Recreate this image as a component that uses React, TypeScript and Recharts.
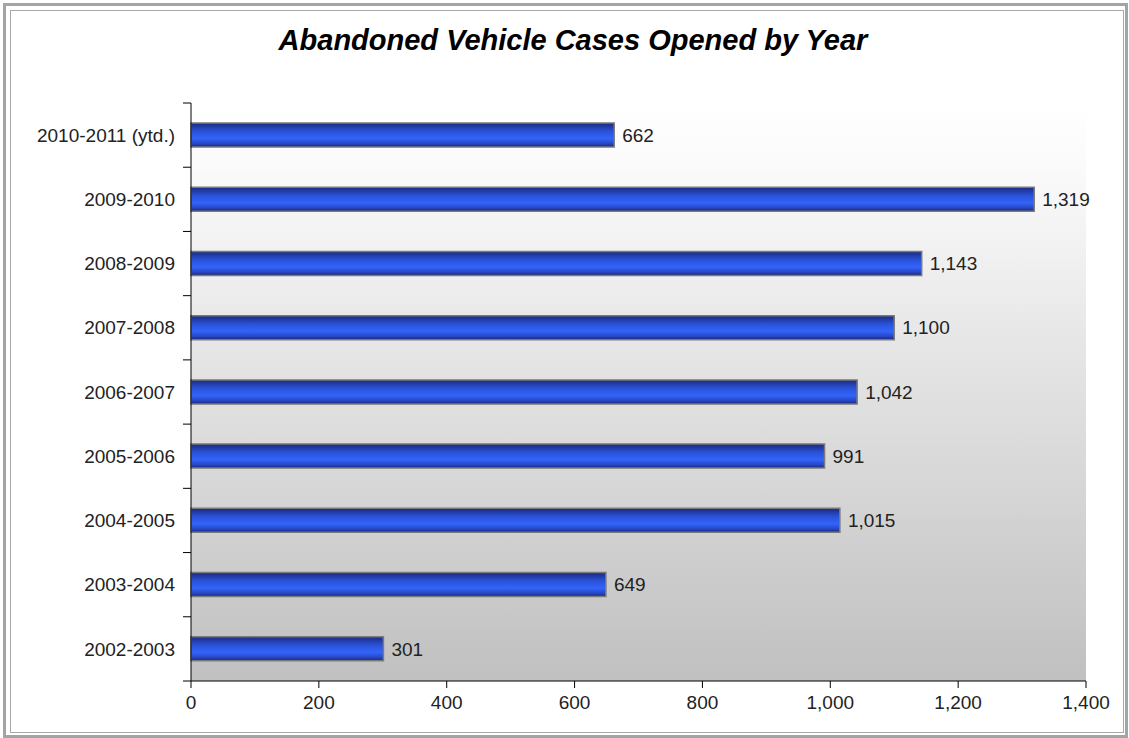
import { Bar, BarChart, CartesianGrid, LabelList, XAxis, YAxis } from 'recharts'

const years = [
  '2010-2011 (ytd.)',
  '2009-2010',
  '2008-2009',
  '2007-2008',
  '2006-2007',
  '2005-2006',
  '2004-2005',
  '2003-2004',
  '2002-2003',
]
const cases = [662, 1319, 1143, 1100, 1042, 991, 1015, 649, 301]
const xTicks = [0, 200, 400, 600, 800, 1000, 1200, 1400]

const data = years.map((year, i) => ({ year, cases: cases[i] }))

const FONT = '"Liberation Sans", Arial, sans-serif'
const fmt = (n: number) => n.toLocaleString('en-US')

// category labels centred in the band, tick marks on the band edges
function YTick(props: any) {
  const { x, y, payload, index, visibleTicksCount, height } = props
  const band = height / visibleTicksCount
  const axisX = x + 16
  return (
    <g>
      <line x1={axisX - 8} x2={axisX} y1={y - band / 2} y2={y - band / 2} stroke="#000" />
      {index === visibleTicksCount - 1 && (
        <line x1={axisX - 8} x2={axisX} y1={y + band / 2} y2={y + band / 2} stroke="#000" />
      )}
      <text x={x} y={y} dy="0.35em" textAnchor="end" fontSize={19} fontFamily={FONT} fill="#222">
        {payload.value}
      </text>
    </g>
  )
}

export default function App() {
  return (
    <div style={{ position: 'fixed', left: 0, top: 0, width: 1129, height: 738, background: '#fff' }}>
      <div style={{ position: 'absolute', left: 3, top: 3, right: 1, bottom: 0, border: '3px solid #a4a4a4' }} />
      <div style={{ position: 'absolute', left: 10, top: 10, right: 5, bottom: 5, border: '1px solid #a8a8a8' }} />
      <div
        style={{
          position: 'absolute',
          left: 0,
          top: 24,
          width: 1146,
          textAlign: 'center',
          fontFamily: FONT,
          fontWeight: 'bold',
          fontStyle: 'italic',
          fontSize: 29,
          color: '#000',
        }}
      >
        Abandoned Vehicle Cases Opened by Year
      </div>
      <div style={{ position: 'absolute', left: 0, top: 0 }}>
        <BarChart
          width={1129}
          height={738}
          data={data}
          layout="vertical"
          margin={{ top: 103, right: 43, bottom: 27, left: 10 }}
          barSize={24}
        >
          <defs>
            <linearGradient id="bg" x1="0" y1="0" x2="0" y2="1">
              <stop offset="0%" stopColor="#ffffff" />
              <stop offset="10%" stopColor="#fbfbfb" />
              <stop offset="100%" stopColor="#c0c0c0" />
            </linearGradient>
            <linearGradient id="barFill" x1="0" y1="0" x2="0" y2="1">
              <stop offset="0%" stopColor="#1a2a80" />
              <stop offset="35%" stopColor="#2a52d8" />
              <stop offset="65%" stopColor="#3264fa" />
              <stop offset="85%" stopColor="#2848c8" />
              <stop offset="100%" stopColor="#18287a" />
            </linearGradient>
          </defs>
          <CartesianGrid horizontal={false} vertical={false} fill="url(#bg)" stroke="none" />
          <XAxis
            type="number"
            domain={[0, 1400]}
            ticks={xTicks}
            tickFormatter={fmt}
            axisLine={{ stroke: '#000' }}
            tickLine={{ stroke: '#000' }}
            tickSize={7}
            tickMargin={8}
            tick={{ fontSize: 19, fontFamily: FONT, fill: '#222' }}
          />
          <YAxis
            type="category"
            dataKey="year"
            width={181}
            axisLine={{ stroke: '#000' }}
            tickLine={false}
            tickSize={0}
            tickMargin={16}
            tick={<YTick />}
            interval={0}
          />
          <Bar dataKey="cases" fill="url(#barFill)" stroke="#7a7a7a" strokeWidth={1.5} isAnimationActive={false}>
            <LabelList
              dataKey="cases"
              position="right"
              offset={8}
              formatter={(v: any) => fmt(Number(v))}
              style={{ fontSize: 19, fontFamily: FONT, fill: '#222' }}
            />
          </Bar>
        </BarChart>
      </div>
    </div>
  )
}
